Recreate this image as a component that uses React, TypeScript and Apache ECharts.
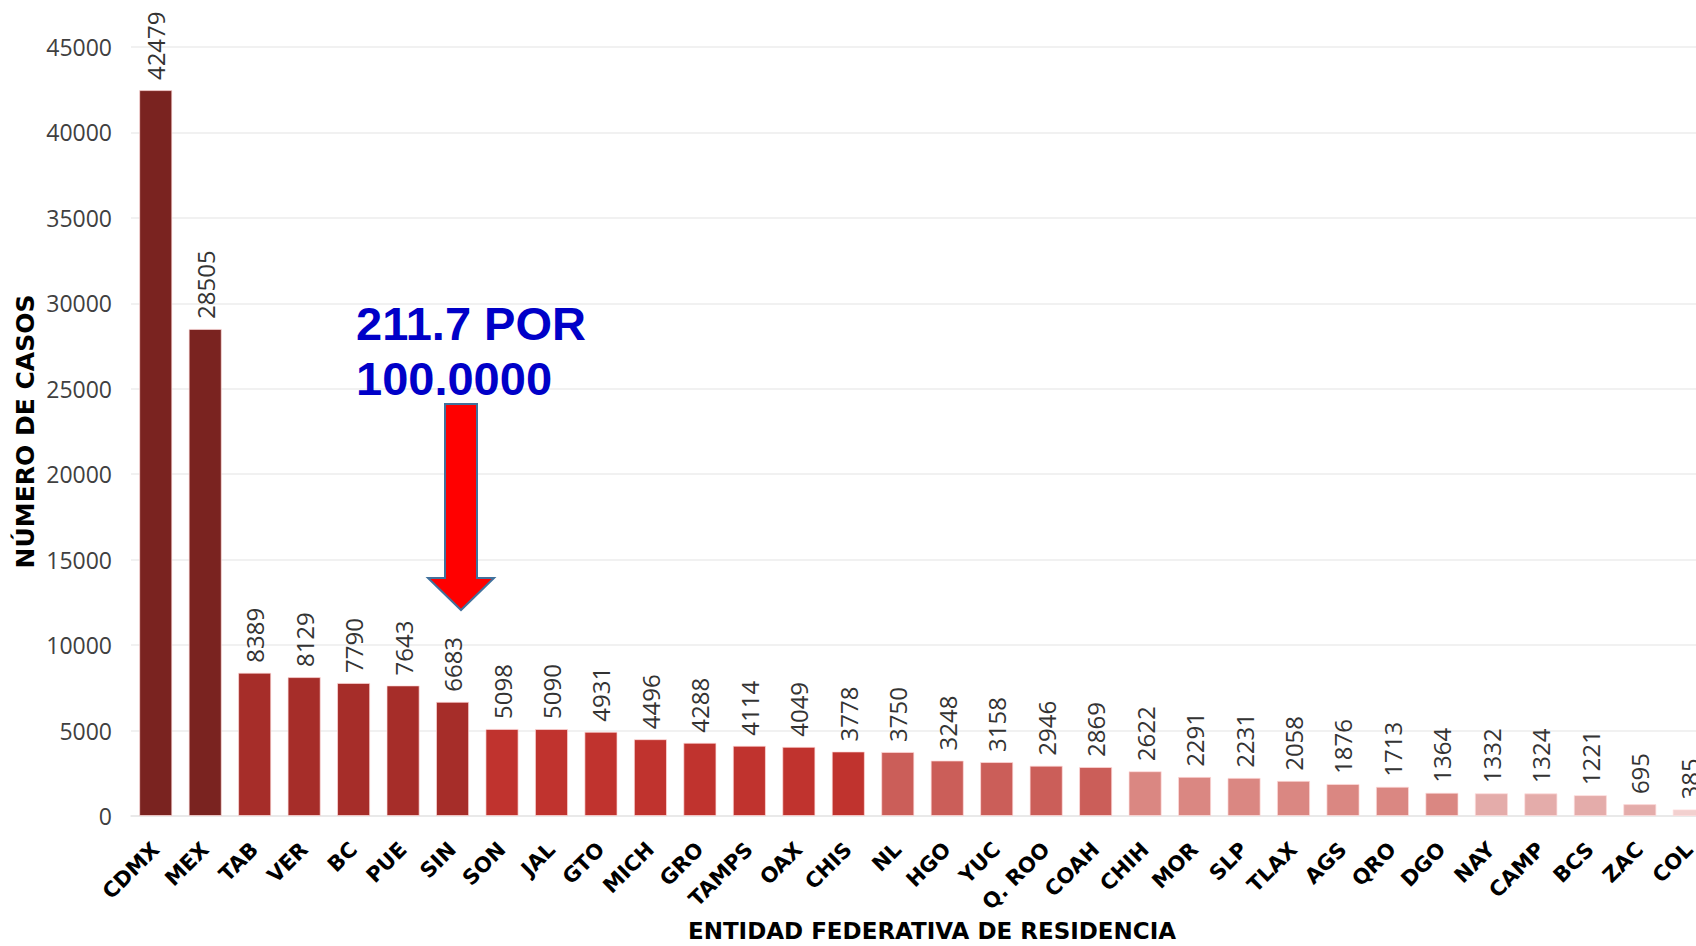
import React, { useEffect, useRef } from "react";
import * as echarts from "echarts";

const categories = [
  "CDMX", "MEX", "TAB", "VER", "BC", "PUE", "SIN", "SON", "JAL", "GTO", "MICH",
  "GRO", "TAMPS", "OAX", "CHIS", "NL", "HGO", "YUC", "Q. ROO", "COAH", "CHIH",
  "MOR", "SLP", "TLAX", "AGS", "QRO", "DGO", "NAY", "CAMP", "BCS", "ZAC", "COL",
];

const casos = [
  42479, 28505, 8389, 8129, 7790, 7643, 6683, 5098, 5090, 4931, 4496,
  4288, 4114, 4049, 3778, 3750, 3248, 3158, 2946, 2869, 2622,
  2291, 2231, 2058, 1876, 1713, 1364, 1332, 1324, 1221, 695, 385,
];

// shade group of each category (0 = darkest)
const shadeGroup = [
  0, 0, 1, 1, 1, 1, 1, 2, 2, 2, 2,
  2, 2, 2, 2, 3, 3, 3, 3, 3, 4,
  4, 4, 4, 4, 4, 4, 5, 5, 5, 5, 6,
];

const shades = ["#7a2320", "#a62d29", "#c0332e", "#cb5e59", "#da8782", "#e4acaa", "#f2d0cf"];

const yTicks = { min: 0, max: 45000, interval: 5000 };

const annotationLines = ["211.7 POR", "100.0000"];

export default function App() {
  const ref = useRef<HTMLDivElement>(null);

  useEffect(() => {
    if (!ref.current) return;
    const chart = echarts.init(ref.current, undefined, { renderer: "svg" });
    const numFont = "'Open Sans', sans-serif";
    const boldFont = "'DejaVu Sans', sans-serif";
    chart.setOption({
      animation: false,
      backgroundColor: "#ffffff",
      grid: {
        left: 131,
        top: 47,
        width: 1583,
        height: 769,
        containLabel: false,
        outerBoundsMode: "none",
      },
      xAxis: {
        type: "category",
        data: categories,
        name: "ENTIDAD FEDERATIVA DE RESIDENCIA",
        nameLocation: "middle",
        nameGap: 103,
        nameMoveOverlap: false,
        nameTextStyle: {
          fontFamily: boldFont,
          fontWeight: "bold",
          fontSize: 23,
          color: "#000",
          padding: [0, 0, 0, 19],
        },
        axisLine: { show: true, lineStyle: { color: "#e6e6e6", width: 1.5 } },
        axisTick: { show: false },
        axisLabel: {
          interval: 0,
          rotate: 45,
          margin: 30,
          fontFamily: boldFont,
          fontWeight: "bold",
          fontSize: 21,
          color: "#000",
        },
      },
      yAxis: {
        type: "value",
        min: yTicks.min,
        max: yTicks.max,
        interval: yTicks.interval,
        name: "NÚMERO DE CASOS",
        nameLocation: "middle",
        nameRotate: 90,
        nameGap: 93,
        nameMoveOverlap: false,
        nameTextStyle: {
          fontFamily: boldFont,
          fontWeight: "bold",
          fontSize: 25,
          color: "#000",
        },
        axisLine: { show: false },
        axisTick: { show: false },
        axisLabel: {
          margin: 19,
          fontFamily: numFont,
          fontSize: 23,
          color: "#404040",
          formatter: (v: number) => String(v),
        },
        splitLine: { show: true, lineStyle: { color: "#ececec", width: 1.5 } },
      },
      series: [
        {
          type: "bar",
          data: casos,
          barCategoryGap: "33%",
          itemStyle: {
            color: (p: any) => shades[shadeGroup[p.dataIndex]],
            borderColor: "rgba(255,220,220,0.7)",
            borderWidth: 1,
          },
          label: {
            show: true,
            position: "top",
            rotate: 90,
            align: "left",
            verticalAlign: "middle",
            distance: 10,
            fontFamily: numFont,
            fontSize: 24,
            color: "#333333",
          },
        },
      ],
      graphic: [
        {
          type: "text",
          left: 356,
          top: 296,
          style: {
            text: annotationLines.join("\n"),
            font: "bold 47px 'Liberation Sans', Arial, sans-serif",
            lineHeight: 55,
            fill: "#0000c8",
          },
          z: 100,
        },
        {
          type: "polygon",
          shape: {
            points: [
              [445, 404], [477, 404], [477, 578], [494, 578],
              [461, 610], [428, 578], [445, 578],
            ],
          },
          style: { fill: "#ff0000", stroke: "#41719c", lineWidth: 2 },
          z: 100,
        },
      ],
    });
    return () => chart.dispose();
  }, []);

  return (
    <div
      style={{
        position: "fixed",
        left: 0,
        top: 0,
        width: 1696,
        height: 946,
        overflow: "hidden",
        background: "#fff",
      }}
    >
      <div ref={ref} style={{ width: 1760, height: 946 }} />
    </div>
  );
}
